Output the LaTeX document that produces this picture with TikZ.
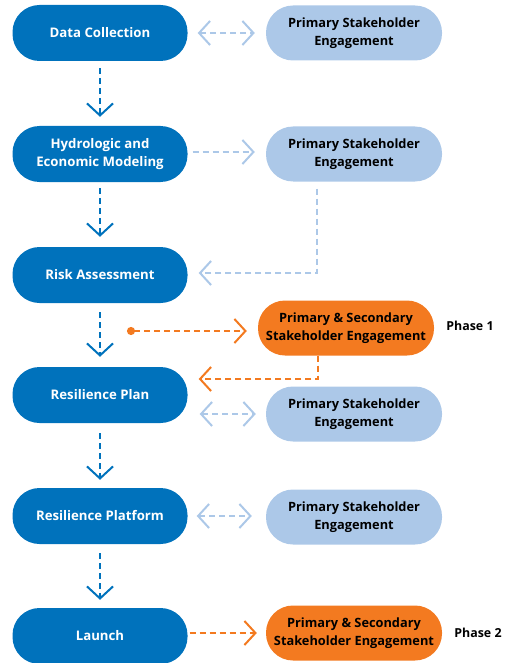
\documentclass[tikz,border=0pt]{standalone}
\usepackage{fontspec}
\setmainfont{Open Sans}
\usetikzlibrary{arrows.meta}
\usetikzlibrary{positioning}
\definecolor{mblue}{RGB}{0,114,188}
\definecolor{lblue}{RGB}{172,200,232}
\definecolor{morange}{RGB}{243,122,32}

\begin{document}
\begin{tikzpicture}[x=1pt, y=-1pt,
    stage/.style={fill=mblue, text=white, rounded corners=27pt, minimum width=175pt, minimum height=56pt, align=center, font=\bfseries\fontsize{13.2}{18.5}\selectfont},
    engage/.style={stage, fill=lblue, text=black, minimum width=176pt, minimum height=55pt, font=\bfseries\fontsize{12.8}{18.5}\selectfont},
    joint/.style={engage, fill=morange},
    phase/.style={font=\bfseries\fontsize{12.4}{15}\selectfont},
    flow/.style={mblue, line width=2pt, dash pattern=on 6pt off 4pt, -{Straight Barb[length=12pt, width=26pt]}},
    talk/.style={lblue, line width=2pt, dash pattern=on 6pt off 4pt, {Straight Barb[length=11pt, width=24pt]}-{Straight Barb[length=11pt, width=24pt]}},
    feed/.style={lblue, line width=2pt, dash pattern=on 6pt off 4pt, -{Straight Barb[length=11pt, width=24pt]}},
    push/.style={morange, line width=2pt, dash pattern=on 6pt off 4pt, -{Straight Barb[length=11pt, width=24pt]}}]
    \useasboundingbox (0, 0) rectangle (521, 663);

    % main stages
    \node [stage] (data) at (100, 33) {Data Collection};
    \node [stage] (hydro) at (100, 154) {Hydrologic and\\Economic Modeling};
    \node [stage] (risk) at (100, 275) {Risk Assessment};
    \node [stage] (plan) at (100, 395) {Resilience Plan};
    \node [stage] (platform) at (100, 516) {Resilience Platform};
    \node [stage] (launch) at (100, 636) {Launch};

    % engagement boxes
    \node [engage] (eng1) at (354, 33) {Primary Stakeholder\\Engagement};
    \node [engage] (eng2) at (354, 154) {Primary Stakeholder\\Engagement};
    \node [joint] (both1) at (346, 328) {Primary \& Secondary\\Stakeholder Engagement};
    \node [engage] (eng3) at (354, 414) {Primary Stakeholder\\Engagement};
    \node [engage] (eng4) at (354, 517) {Primary Stakeholder\\Engagement};
    \node [joint] (both2) at (354, 633) {Primary \& Secondary\\Stakeholder Engagement};

    \node [phase] (ph1) at (470, 326) {Phase 1};
    \node [phase] (ph2) at (478, 633) {Phase 2};

    % down the chain
    \draw [flow, shorten <=7pt, shorten >=9pt] (data) -- (hydro);
    \draw [flow, shorten <=6pt, shorten >=10pt] (hydro) -- (risk);
    \draw [flow, shorten <=9pt, shorten >=10pt] (risk) -- (plan);
    \draw [flow, shorten <=10pt, shorten >=8pt] (plan) -- (platform);
    \draw [flow, shorten <=9pt, shorten >=8pt] (platform) -- (launch);

    % side links
    \draw [talk, shorten <=10pt, shorten >=11pt] (data) -- (eng1);
    \draw [feed, shorten <=5pt, shorten >=11pt] ([yshift=2pt]hydro.east) -- ([yshift=2pt]eng2.west);
    \draw [feed, shorten <=7pt, shorten >=11pt] ([xshift=-37pt]eng2.south) |- ([yshift=2pt]risk.east);
    \coordinate (start) at (127, 331);
    \draw [push, {Circle[length=8pt]}-{Straight Barb[length=11pt, width=24pt]}, shorten >=11pt] (start) -- (start -| both1.west);
    \draw [push, shorten >=11pt] ([xshift=-28pt]both1.south) |- ([yshift=16pt]plan.east);
    \draw [talk, shorten <=12pt, shorten >=10pt] (eng3.west -| plan.east) -- (eng3.west);
    \draw [talk, shorten <=9pt, shorten >=14pt] (platform) -- (platform -| eng4.west);
    \draw [push, shorten <=2pt, shorten >=9pt] (launch.east |- both2) -- (both2.west);
\end{tikzpicture}
\end{document}
